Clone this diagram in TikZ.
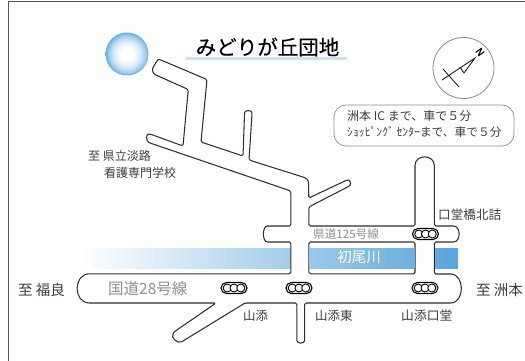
\documentclass[tikz,border=0pt]{standalone}
\usepackage{fontspec}
\setmainfont{Noto Sans CJK JP}
\newfontfamily\titlefont[FakeBold=0.4]{Noto Sans CJK JP}
\newfontfamily\northfont[FakeBold=0.8]{Noto Sans CJK JP}
\definecolor{roadline}{HTML}{2E2E2E}
\definecolor{txt}{HTML}{3C3C3C}
\definecolor{pale}{HTML}{8F8F8F}
\definecolor{framegray}{HTML}{555555}
\definecolor{rivblue}{HTML}{5AA5DA}
\definecolor{sunblue}{HTML}{62B0E6}
\definecolor{sunmid}{HTML}{DCECF8}
\definecolor{sunmid2}{HTML}{A4D0EE}
\definecolor{underblue}{HTML}{3A8CCB}
\pgfdeclareradialshading{sunshade}{\pgfpoint{0bp}{0bp}}{color(0bp)=(white); color(7bp)=(white); color(15bp)=(sunmid); color(21bp)=(sunmid2); color(25bp)=(sunblue); color(50bp)=(sunblue)}
\pgfdeclarehorizontalshading{riverfade}{100bp}{color(0bp)=(white); color(25bp)=(white); color(75bp)=(rivblue); color(100bp)=(rivblue)}
\tikzset{
  x=1pt,y=-1pt,
  fs/.style={font=\fontsize{#1}{#1}\selectfont},
  lab/.style={inner sep=0pt,anchor=west,text=txt,fs=#1},
  palelab/.style={inner sep=0pt,anchor=west,text=pale,fs=#1},
  road/.style={draw=roadline,line width=1.05pt,fill=white,even odd rule,line join=round},
  signalbody/.style={draw=black,line width=1.1pt,fill=white,rounded corners=5.5pt},
  lamp/.style={draw=black,line width=0.9pt,fill=white},
}
\newcommand{\signal}[3]{%
  \node[signalbody,minimum width=26pt,minimum height=11pt,inner sep=0pt] (#1) at (#2,#3) {};
  \draw[lamp] (#2-6.8,#3) circle[radius=4];
  \draw[lamp] (#2,#3) circle[radius=4];
  \draw[lamp] (#2+6.8,#3) circle[radius=4];
}
\begin{document}
\begin{tikzpicture}
\useasboundingbox (0,0) rectangle (525,361);
% river
\shade[shading=riverfade] (80,248.3) rectangle (458,268.3);
% roads
\draw[road,rounded corners=1.5pt]
  (157,60.5) .. controls (159,59) and (160,59.5) .. (162,60.5)
  -- (207,79.5) -- (201,142) -- (243,156)
  -- (244.5,114) .. controls (244.7,110) and (251.8,110) .. (252,114)
  -- (249,160) -- (306,178) -- (308.5,181) -- (308.8,198)
  -- (347,180) .. controls (350,180) and (351,184) .. (349.5,186)
  -- (308.8,207) -- (308.8,226) -- (415,226)
  -- (415,167) .. controls (415,154) and (434.3,154) .. (434.3,167)
  -- (434.3,226) -- (452,226) .. controls (461,226) and (461,242) .. (452,242)
  -- (434.3,242) -- (434.3,274) -- (449,274)
  .. controls (465,274) and (465,303) .. (449,303)
  -- (304.7,303) -- (304.7,339) .. controls (304.7,344) and (296.8,344) .. (296.8,339)
  -- (296.8,303) -- (245,303) -- (183,341)
  .. controls (178,344) and (170,338) .. (174,332)
  -- (216,303) -- (91,303)
  .. controls (73,303) and (73,273.8) .. (91,273.8)
  -- (290.8,273.8) -- (290.8,242) -- (269,242)
  .. controls (262,242) and (262,226) .. (269,226)
  -- (290.8,226) -- (290.8,191) -- (150,143)
  .. controls (146,141) and (146,134) .. (150,134)
  -- (183,146) -- (188.3,89.5) -- (157,75.5)
  .. controls (152,73) and (152,69) .. (154,66) -- cycle
  (308.8,242) rectangle (415,273.8);
% river inside the island between the two roads
\begin{scope}
  \clip (309.3,242.5) rectangle (414.5,273.3);
  \shade[shading=riverfade] (80,248.3) rectangle (458,268.3);
\end{scope}
% signals
\signal{s1}{234}{288}
\signal{s2}{299}{288}
\signal{s3}{425}{288}
\signal{s4}{425.5}{234}
% sun
\shade[shading=sunshade] (127,54) circle[radius=21.5];
% title
\node[inner sep=0pt,text=black,font=\titlefont\fontsize{20.5}{20.5}\selectfont] (title) at (267.5,47) {みどりが丘団地};
\shade[left color=underblue!25,middle color=underblue,right color=underblue!25] (186,57.9) rectangle (347,59.9);
% compass
\node[draw=black!45,line width=0.8pt,circle,minimum size=61pt,inner sep=0pt] (compass) at (463.5,68) {};
\draw[draw=black!90,line width=0.85pt,line join=miter]
  (442,80) -- (475,58) -- (464,73) -- (460,67)
  (443,69) -- (459,87);
\node[inner sep=0pt,rotate=-55,text=black,font=\northfont\fontsize{10}{10}\selectfont] (north) at (480,52) {N};
% info box
\node[draw=black!45,line width=0.7pt,rounded corners=12pt,minimum width=180pt,minimum height=41pt,inner sep=0pt] (info) at (424,125.5) {};
\node[lab=12] (info1) at (347,116) {洲本 IC まで、車で５分};
\node[lab=11.7] (info2) at (347,132.5) {ｼｮｯﾋﾟﾝｸﾞ ｾﾝﾀｰまで、車で５分};
% labels
\node[lab=12] (kenritsu) at (88,156) {至 県立淡路};
\node[lab=12] (kango) at (104,173) {看護専門学校};
\node[lab=14.5] (fukura) at (18,290) {至 福良};
\node[lab=14.5] (sumoto) at (476,290) {至 洲本};
\node[palelab=15.5] (r28) at (108,288.5) {国道28号線};
\node[palelab=11.6] (r125) at (313,234) {県道125号線};
\node[inner sep=0pt,text=white,fs=14.5] (hatsuo) at (359,257.5) {初尾川};
\node[lab=12.6] (kodo) at (438,214.5) {口堂橋北詰};
\node[lab=12.5] (yamazoe) at (243,315.5) {山添};
\node[lab=12.5] (yamazoeh) at (315,316) {山添東};
\node[lab=12.8] (yamazoek) at (401,316) {山添口堂};
% frame
\draw[draw=framegray,line width=1.8pt] (8.5,400) -- (8.5,1.5) -- (560,1.5);
\end{tikzpicture}
\end{document}
